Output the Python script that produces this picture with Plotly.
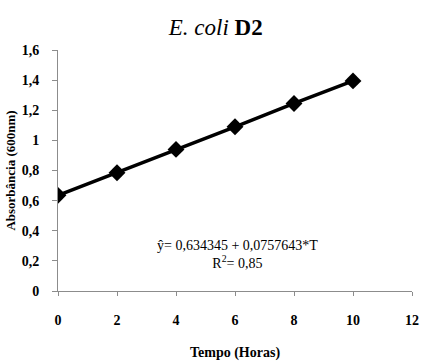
import plotly.graph_objects as go

tempo = [0, 2, 4, 6, 8, 10]
absorbancia = [0.635, 0.785, 0.94, 1.09, 1.245, 1.395]

x_ticks = [0, 2, 4, 6, 8, 10, 12]
x_labels = ["0", "2", "4", "6", "8", "10", "12"]
y_ticks = [0, 0.2, 0.4, 0.6, 0.8, 1.0, 1.2, 1.4, 1.6]
y_labels = ["0", "0,2", "0,4", "0,6", "0,8", "1", "1,2", "1,4", "1,6"]

title_text = "<i>E. coli</i> <b>D2</b>"
eq_text = "ŷ= 0,634345 + 0,0757643*T<br>R<sup>2</sup>= 0,85"

serif = "Liberation Serif, Times New Roman, serif"

fig = go.Figure()
fig.add_trace(go.Scatter(
    x=tempo, y=absorbancia, mode="lines+markers",
    line=dict(color="black", width=3.5),
    marker=dict(symbol="diamond", size=13, color="black"),
    showlegend=False,
))

fig.update_layout(
    width=423, height=361,
    margin=dict(l=58, r=11, t=50, b=70),
    paper_bgcolor="white", plot_bgcolor="white",
    title=dict(text=title_text, x=0.51, xanchor="center", y=0.925, yanchor="middle",
               font=dict(family=serif, size=23, color="black")),
    font=dict(family=serif, color="black"),
    annotations=[dict(
        text=eq_text, x=6.1, y=0.245, xref="x", yref="y", showarrow=False,
        font=dict(family=serif, size=14, color="black"), align="center",
    )],
)

fig.update_xaxes(
    range=[0, 12], tickvals=x_ticks, ticktext=[f"<b>{t}</b>" for t in x_labels],
    showgrid=False, zeroline=False, showline=True, linecolor="#8c8c8c", linewidth=1,
    ticks="outside", ticklen=4, tickcolor="#8c8c8c", ticklabelstandoff=12,
    tickfont=dict(family=serif, size=14, color="black"), automargin=False,
    title=dict(text="<b>Tempo (Horas)</b>", font=dict(family=serif, size=14, color="black"), standoff=20),
)
fig.update_yaxes(
    range=[0, 1.6], tickvals=y_ticks, ticktext=[f"<b>{t}</b>" for t in y_labels],
    showgrid=False, zeroline=False, showline=True, linecolor="#8c8c8c", linewidth=1,
    ticks="outside", ticklen=5, tickcolor="#8c8c8c", ticklabelstandoff=10,
    tickfont=dict(family=serif, size=14, color="black"), automargin=False,
    title=dict(text="<b>Absorbância (600nm)</b>", font=dict(family=serif, size=13, color="black"), standoff=3),
)

fig.write_html("out.html", config={"displayModeBar": False},
               post_script="document.body.style.margin='0';")
